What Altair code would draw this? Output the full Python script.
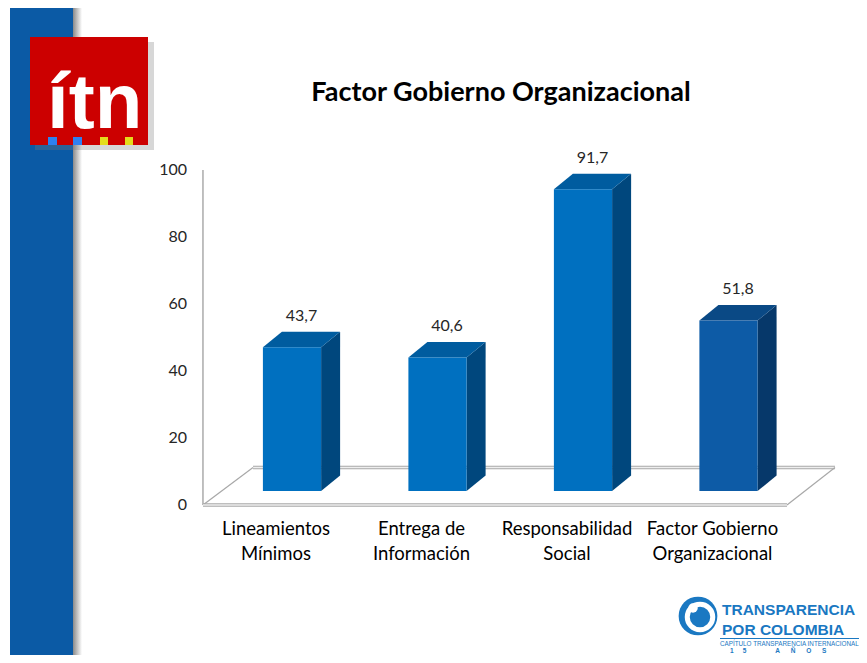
import altair as alt
import pandas as pd

# ---------------- data ----------------
categories = ["Lineamientos Mínimos", "Entrega de Información",
              "Responsabilidad Social", "Factor Gobierno Organizacional"]
category_labels = ["Lineamientos\nMínimos", "Entrega de\nInformación",
                   "Responsabilidad\nSocial", "Factor Gobierno\nOrganizacional"]
values = [43.7, 40.6, 91.7, 51.8]
y_ticks = [0, 20, 40, 60, 80, 100]
chart_title = "Factor Gobierno Organizacional"

# ---------------- style ----------------
front_colors = ["#0070c0", "#0070c0", "#0070c0", "#0d5ba6"]
side_colors = ["#00477d", "#00477d", "#00477d", "#06386a"]
top_colors = ["#005c9f", "#005c9f", "#005c9f", "#0a4985"]
FONT = "Lato"

W, H = 851, 647
X_DOMAIN = [-1.952, 3.897]
Y_DOMAIN = [-44.78, 148.36]
HALF = 0.2      # half bar width (category units)
DU = 0.1306     # 3D depth, horizontal
DV = 4.63       # 3D depth, vertical (value units)
BASE = 4.18     # bar floor level
K = 0.982       # perspective factor of the bar plane

xs = alt.Scale(domain=X_DOMAIN, nice=False, zero=False)
ys = alt.Scale(domain=Y_DOMAIN, nice=False, zero=False)

n = len(categories)
front = pd.DataFrame({
    "cat": categories,
    "u": list(range(n)),
    "x1": [i - HALF for i in range(n)],
    "x2": [i + HALF for i in range(n)],
    "y1": [BASE] * n,
    "y2": [BASE + K * v for v in values],
    "fill": front_colors,
    "label": [f"{v:.1f}".replace(".", ",") for v in values],
    "lx": [i + DU / 2 for i in range(n)],
    "ly": [BASE + K * v + DV for v in values],
    "cl": category_labels,
})

side_rows, top_rows = [], []
for i, v in enumerate(values):
    t = BASE + K * v
    side_rows += [
        {"cat": categories[i], "x": i + HALF, "lo": BASE, "hi": t, "fill": side_colors[i]},
        {"cat": categories[i], "x": i + HALF + DU, "lo": BASE + DV, "hi": t + DV, "fill": side_colors[i]},
    ]
    top_rows += [
        {"cat": categories[i], "y": t, "xa": i - HALF, "xb": i + HALF, "fill": top_colors[i]},
        {"cat": categories[i], "y": t + DV, "xa": i - HALF + DU, "xb": i + HALF + DU, "fill": top_colors[i]},
    ]
side = pd.DataFrame(side_rows)
top = pd.DataFrame(top_rows)
ticks = pd.DataFrame({"t": y_ticks, "lab": [str(t) for t in y_ticks]})

# floor of the 3D plot
FL, FR = -0.612, n - 1 + 0.402
floor_front = pd.DataFrame({"x": [FL, FR], "y": [0.0, 0.0]})
floor_back = pd.DataFrame({"x": [FL + 0.344, FR + 0.33], "y": [11.2, 11.2]})
floor_diag = pd.DataFrame({"x": [FL, FL + 0.344, FR, FR + 0.33],
                           "y": [0.0, 11.2, 0.0, 11.2],
                           "side": ["l", "l", "r", "r"]})
axis_line = pd.DataFrame({"x": [FL], "y": [0.0], "y2": [max(y_ticks)]})

one = pd.DataFrame({"a": [0]})


def box(x, x2, y, y2, **kw):
    return alt.Chart(one).mark_rect(**kw).encode(
        x=alt.value(x), x2=alt.value(x2), y=alt.value(y), y2=alt.value(y2))


def txt(s, x, y, **kw):
    return alt.Chart(one).mark_text(text=s, **kw).encode(x=alt.value(x), y=alt.value(y))


grad_h = alt.LinearGradient(gradient="linear", x1=0, x2=1, y1=0, y2=0,
                            stops=[alt.GradientStop(color="#8a8a8a", offset=0),
                                   alt.GradientStop(color="#ffffff", offset=1)])

# ---------------- decoration ----------------
stripe = box(2, 65, 0, H, color="#0b5aa5")
stripe_shadow = box(65, 74, 0, H, fill=grad_h)
logo_shadow = box(27, 146, 34, 142, color="#7a7a7a", opacity=0.3)
logo = box(22, 140, 29, 137, color="#cc0000")
logo_text = txt("ítn", 39, 120, font="Liberation Sans", fontSize=78, fontWeight="bold",
                color="white", align="left", baseline="alphabetic")
sq = [box(40, 49, 129, 137, color="#2f80f0"), box(65, 74, 129, 137, color="#2f80f0"),
      box(92, 100, 129, 137, color="#e4dc1c"), box(117, 125, 129, 137, color="#e4dc1c")]

NB = "\u00a0"
tpc = "#1a78c2"
tpc_logo = [
    alt.Chart(one).mark_point(shape="circle", filled=True, size=1500, color=tpc, opacity=1)
    .encode(x=alt.value(690), y=alt.value(608)),
    alt.Chart(one).mark_point(shape="circle", filled=False, size=650, color="white",
                              strokeWidth=5, opacity=1)
    .encode(x=alt.value(692), y=alt.value(609)),
    alt.Chart(one).mark_point(shape="circle", filled=True, size=90, color="white", opacity=1)
    .encode(x=alt.value(685), y=alt.value(600)),
    txt("TRANSPARENCIA", 714, 607, font="Liberation Sans", fontSize=15.5, fontWeight="bold",
        color=tpc, align="left", baseline="alphabetic"),
    txt("POR COLOMBIA", 714, 627, font="Liberation Sans", fontSize=15.5, fontWeight="bold",
        color=tpc, align="left", baseline="alphabetic"),
    box(712, 851, 630, 631, color=tpc),
    txt("CAPÍTULO TRANSPARENCIA INTERNACIONAL", 712, 638, font="Liberation Sans", fontSize=6.3,
        color=tpc, align="left", baseline="alphabetic"),
    txt(("1" + NB * 5 + "5" + NB * 16 + "A" + NB * 6 + "Ñ" + NB * 6 + "O" + NB * 6 + "S"),
        722, 645, font="Liberation Sans", fontSize=6.5,
        fontWeight="bold", color=tpc, align="left", baseline="alphabetic"),
]

# ---------------- chart ----------------
title = txt(chart_title, 493, 85, font=FONT, fontSize=27, fontWeight="bold",
            color="#000000", align="center", baseline="middle")


def L(df, **kw):
    return alt.Chart(df).mark_line(**kw).encode(
        x=alt.X("x:Q", scale=xs, axis=None), y=alt.Y("y:Q", scale=ys, axis=None))


back_thick = L(floor_back, color="#a8a8a8", strokeWidth=3.5)
back_thin = L(floor_back, color="#eeeeee", strokeWidth=1.5)
diag = alt.Chart(floor_diag).mark_line(color="#a8a8a8", strokeWidth=1.2).encode(
    x=alt.X("x:Q", scale=xs, axis=None), y=alt.Y("y:Q", scale=ys, axis=None), detail="side:N")
front_thick = L(floor_front, color="#a8a8a8", strokeWidth=3.5)
front_thin = L(floor_front, color="#eeeeee", strokeWidth=1.5)
vaxis = alt.Chart(axis_line).mark_rule(color="#b0b0b0", strokeWidth=1.6).encode(
    x=alt.X("x:Q", scale=xs, axis=None), y=alt.Y("y:Q", scale=ys, axis=None), y2="y2:Q")
tick_labels = alt.Chart(ticks).mark_text(font=FONT, fontSize=16, color="#262626",
                                         align="right", baseline="middle").encode(
    x=alt.value(179), y=alt.Y("t:Q", scale=ys, axis=None), text="lab:N")

bars_front = alt.Chart(front).mark_rect().encode(
    x=alt.X("x1:Q", scale=xs, axis=None), x2="x2:Q",
    y=alt.Y("y1:Q", scale=ys, axis=None), y2="y2:Q",
    fill=alt.Fill("fill:N", scale=None))
bars_side = alt.Chart(side).mark_area(orient="vertical", line=False).encode(
    x=alt.X("x:Q", scale=xs, axis=None),
    y=alt.Y("lo:Q", scale=ys, axis=None), y2="hi:Q",
    detail="cat:N", fill=alt.Fill("fill:N", scale=None))
bars_top = alt.Chart(top).mark_area(orient="horizontal", line=False).encode(
    y=alt.Y("y:Q", scale=ys, axis=None),
    x=alt.X("xa:Q", scale=xs, axis=None), x2="xb:Q",
    detail="cat:N", fill=alt.Fill("fill:N", scale=None))

value_labels = alt.Chart(front).mark_text(font=FONT, fontSize=16, color="#262626",
                                          baseline="middle", dy=-16).encode(
    x=alt.X("lx:Q", scale=xs, axis=None), y=alt.Y("ly:Q", scale=ys, axis=None), text="label:N")

cat_labels = alt.Chart(front).mark_text(font=FONT, fontSize=18.5, color="#000000",
                                        baseline="alphabetic", lineBreak="\n", lineHeight=25,
                                        dx=-16).encode(
    x=alt.X("u:Q", scale=xs, axis=None), y=alt.value(527), text="cl:N")

chart = alt.layer(
    stripe, stripe_shadow, logo_shadow, logo, logo_text, *sq, *tpc_logo, title,
    back_thick, back_thin, diag, vaxis, tick_labels,
    bars_side, bars_top, bars_front,
    front_thick, front_thin,
    value_labels, cat_labels,
).properties(width=W, height=H, padding=0, autosize="none", background="white"
).configure_view(stroke=None)

chart.save("out.html", embed_options={"renderer": "svg", "actions": False})
